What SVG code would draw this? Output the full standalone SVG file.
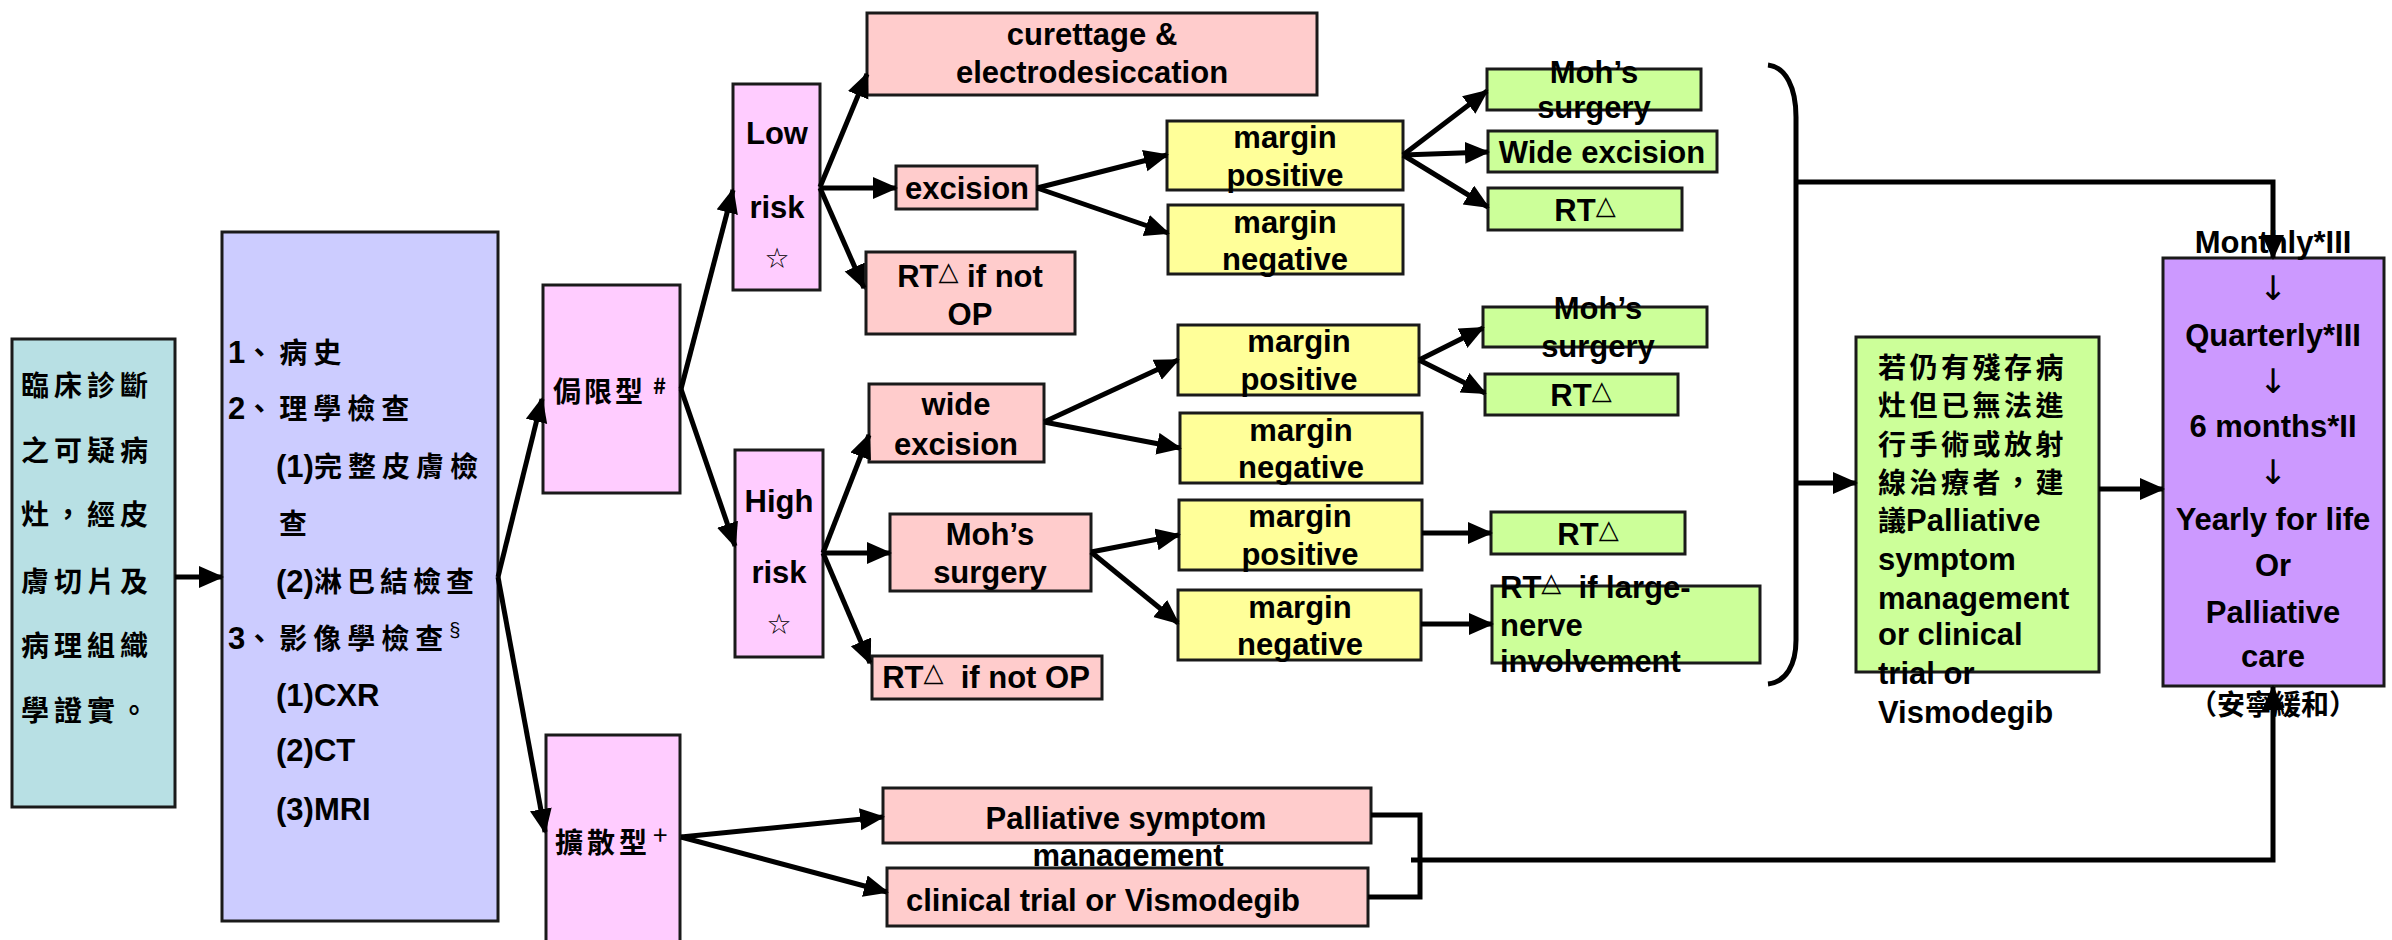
<svg xmlns="http://www.w3.org/2000/svg" width="2392" height="940" viewBox="0 0 2392 940">
<defs>
<style>
.box{stroke:#1a1a1a;stroke-width:3}
.teal{fill:#B8E0E4}.lav{fill:#CCCCFF}.pink{fill:#FFCCFF}.sal{fill:#FFCCCC}.yel{fill:#FFFF99}.grn{fill:#CCFF99}.pur{fill:#CC99FF}
.t{font-family:"Liberation Sans","Noto Sans CJK TC",sans-serif;font-weight:bold;font-size:31px;fill:#000}
.c{text-anchor:middle}
.cj{font-family:"Noto Sans CJK TC","Liberation Sans",sans-serif;font-weight:bold;font-size:28px}
.tri{font-family:"DejaVu Sans",sans-serif;font-weight:normal;font-size:26px}
.star{font-family:"DejaVu Sans",sans-serif;font-weight:normal;font-size:28px}
.dn{font-family:"DejaVu Sans",sans-serif;font-weight:normal;font-size:34px;text-anchor:middle}
.cn line,.cn path{stroke:#000;stroke-width:5;fill:none}
</style>
<marker id="ah" markerUnits="userSpaceOnUse" markerWidth="26" markerHeight="24" refX="23" refY="11" orient="auto"><path d="M0,0 L25,11 L0,22 z" fill="#000"/></marker>
</defs>
<rect width="2392" height="940" fill="#fff"/>

<g id="n-clinical">
<rect class="box teal" x="12" y="339" width="163" height="468"/>
<text class="t cj" letter-spacing="5"><tspan x="21" y="396">臨床診斷</tspan><tspan x="21" y="461">之可疑病</tspan><tspan x="21" y="525">灶，經皮</tspan><tspan x="21" y="592">膚切片及</tspan><tspan x="21" y="656">病理組織</tspan><tspan x="21" y="721">學證實。</tspan></text>
</g>

<g id="n-exam">
<rect class="box lav" x="222" y="232" width="276" height="689"/>
<text class="t" font-size="30" x="228" y="363">1<tspan class="cj" letter-spacing="6">、病史</tspan></text>
<text class="t" font-size="30" x="228" y="419">2<tspan class="cj" letter-spacing="6">、理學檢查</tspan></text>
<text class="t" font-size="30" x="276" y="477">(1)<tspan class="cj" letter-spacing="6">完整皮膚檢</tspan></text>
<text class="t cj" x="279" y="534">查</text>
<text class="t" font-size="30" x="276" y="592">(2)<tspan class="cj" letter-spacing="5">淋巴結檢查</tspan></text>
<text class="t" font-size="30" x="228" y="649">3<tspan class="cj" letter-spacing="6">、影像學檢查</tspan><tspan font-size="20" font-weight="normal" dy="-12">§</tspan></text>
<text class="t" font-size="30" x="276" y="706">(1)CXR</text>
<text class="t" font-size="30" x="276" y="761">(2)CT</text>
<text class="t" font-size="30" x="276" y="820">(3)MRI</text>
</g>

<g id="n-localized">
<rect class="box pink" x="543" y="285" width="137" height="208"/>
<text class="t cj" letter-spacing="3" x="553" y="402">侷限型<tspan x="653" y="394" font-size="22" letter-spacing="0">#</tspan></text>
</g>

<g id="n-diffuse">
<rect class="box pink" x="546" y="735" width="134" height="215"/>
<text class="t cj" letter-spacing="4" x="555" y="853">擴散型<tspan x="653" y="845" font-size="26" font-weight="normal" letter-spacing="0">+</tspan></text>
</g>

<g id="n-low">
<rect class="box pink" x="733" y="84" width="87" height="206"/>
<text class="t c" x="777" y="144">Low</text>
<text class="t c" x="777" y="218">risk</text>
<text class="star c" x="777" y="268">☆</text>
</g>

<g id="n-high">
<rect class="box pink" x="735" y="450" width="88" height="207"/>
<text class="t c" x="779" y="512">High</text>
<text class="t c" x="779" y="583">risk</text>
<text class="star c" x="779" y="634">☆</text>
</g>

<g id="n-curettage">
<rect class="box sal" x="867" y="13" width="450" height="82"/>
<text class="t c" x="1092" y="45">curettage &amp;</text>
<text class="t c" x="1092" y="83">electrodesiccation</text>
</g>

<g id="n-excision">
<rect class="box sal" x="896" y="166" width="141" height="43"/>
<text class="t c" x="967" y="199">excision</text>
</g>

<g id="n-rt-low">
<rect class="box sal" x="866" y="252" width="209" height="82"/>
<text class="t c" x="970" y="287">RT<tspan class="tri" dy="-7">△</tspan><tspan dy="7"> if not</tspan></text>
<text class="t c" x="970" y="325">OP</text>
</g>

<g id="n-wide">
<rect class="box sal" x="869" y="384" width="175" height="78"/>
<text class="t c" x="956" y="415">wide</text>
<text class="t c" x="956" y="455">excision</text>
</g>

<g id="n-mohs">
<rect class="box sal" x="890" y="514" width="201" height="77"/>
<text class="t c" x="990" y="545">Moh’s</text>
<text class="t c" x="990" y="583">surgery</text>
</g>

<g id="n-rt-high">
<rect class="box sal" x="872" y="656" width="230" height="43"/>
<text class="t c" x="986" y="688">RT<tspan class="tri" dy="-7">△</tspan><tspan dy="7" xml:space="preserve">  if not OP</tspan></text>
</g>

<g id="n-palliative">
<rect class="box sal" x="883" y="788" width="488" height="55"/>
<text class="t c" x="1126" y="829">Palliative symptom</text>
<text class="t c" x="1128" y="866">management</text>
</g>

<g id="n-trial">
<rect class="box sal" x="887" y="868" width="481" height="58"/>
<text class="t" x="906" y="911">clinical trial or Vismodegib</text>
</g>

<g id="n-mpos1">
<rect class="box yel" x="1167" y="121" width="236" height="69"/>
<text class="t c" x="1285" y="148">margin</text>
<text class="t c" x="1285" y="186">positive</text>
</g>
<g id="n-mneg1">
<rect class="box yel" x="1168" y="205" width="235" height="69"/>
<text class="t c" x="1285" y="233">margin</text>
<text class="t c" x="1285" y="270">negative</text>
</g>
<g id="n-mpos2">
<rect class="box yel" x="1178" y="325" width="241" height="70"/>
<text class="t c" x="1299" y="352">margin</text>
<text class="t c" x="1299" y="390">positive</text>
</g>
<g id="n-mneg2">
<rect class="box yel" x="1180" y="413" width="242" height="70"/>
<text class="t c" x="1301" y="441">margin</text>
<text class="t c" x="1301" y="478">negative</text>
</g>
<g id="n-mpos3">
<rect class="box yel" x="1179" y="500" width="243" height="70"/>
<text class="t c" x="1300" y="527">margin</text>
<text class="t c" x="1300" y="565">positive</text>
</g>
<g id="n-mneg3">
<rect class="box yel" x="1178" y="590" width="243" height="70"/>
<text class="t c" x="1300" y="618">margin</text>
<text class="t c" x="1300" y="655">negative</text>
</g>

<g id="n-g-mohs1">
<rect class="box grn" x="1487" y="69" width="214" height="41"/>
<text class="t c" x="1594" y="83">Moh’s</text>
<text class="t c" x="1594" y="118">surgery</text>
</g>
<g id="n-g-wide">
<rect class="box grn" x="1488" y="131" width="229" height="41"/>
<text class="t c" x="1602" y="163">Wide excision</text>
</g>
<g id="n-g-rt1">
<rect class="box grn" x="1488" y="188" width="194" height="42"/>
<text class="t c" x="1585" y="221">RT<tspan class="tri" dy="-7">△</tspan></text>
</g>
<g id="n-g-mohs2">
<rect class="box grn" x="1483" y="307" width="224" height="40"/>
<text class="t c" x="1598" y="319">Moh’s</text>
<text class="t c" x="1598" y="357">surgery</text>
</g>
<g id="n-g-rt2">
<rect class="box grn" x="1485" y="374" width="193" height="41"/>
<text class="t c" x="1581" y="406">RT<tspan class="tri" dy="-7">△</tspan></text>
</g>
<g id="n-g-rt3">
<rect class="box grn" x="1491" y="512" width="194" height="42"/>
<text class="t c" x="1588" y="545">RT<tspan class="tri" dy="-7">△</tspan></text>
</g>
<g id="n-g-rt4">
<rect class="box grn" x="1492" y="586" width="268" height="77"/>
<text class="t" x="1500" y="598">RT<tspan class="tri" dy="-7">△</tspan><tspan dy="7" xml:space="preserve">  if large-</tspan></text>
<text class="t" x="1500" y="636">nerve</text>
<text class="t" x="1500" y="672">involvement</text>
</g>

<g id="n-residual">
<rect class="box grn" x="1856" y="337" width="243" height="335"/>
<text class="t cj" letter-spacing="3.5"><tspan x="1878" y="378">若仍有殘存病</tspan><tspan x="1878" y="416">灶但已無法進</tspan><tspan x="1878" y="455">行手術或放射</tspan><tspan x="1878" y="493">線治療者，建</tspan></text>
<text class="t" x="1878" y="531"><tspan class="cj">議</tspan>Palliative</text>
<text class="t" x="1878" y="570">symptom</text>
<text class="t" x="1878" y="609">management</text>
<text class="t" x="1878" y="645">or clinical</text>
<text class="t" x="1878" y="684">trial or</text>
<text class="t" x="1878" y="723">Vismodegib</text>
</g>

<g id="n-followup">
<rect class="box pur" x="2163" y="258" width="221" height="428"/>
<text class="t c" x="2273" y="253">Monthly*III</text>
<text class="dn" x="2273" y="300">↓</text>
<text class="t c" x="2273" y="346">Quarterly*III</text>
<text class="dn" x="2273" y="393">↓</text>
<text class="t c" x="2273" y="437">6 months*II</text>
<text class="dn" x="2273" y="484">↓</text>
<text class="t c" x="2273" y="530">Yearly for life</text>
<text class="t c" x="2273" y="576">Or</text>
<text class="t c" x="2273" y="623">Palliative</text>
<text class="t c" x="2273" y="667">care</text>
<text class="t cj c" font-size="25" x="2273" y="715">（安寧緩和）</text>
</g>

<g id="connectors" class="cn">
<line x1="175" y1="577" x2="222" y2="577" marker-end="url(#ah)"/>
<line x1="498" y1="577" x2="542" y2="399" marker-end="url(#ah)"/>
<line x1="498" y1="577" x2="545" y2="832" marker-end="url(#ah)"/>
<line x1="681" y1="389" x2="733" y2="190" marker-end="url(#ah)"/>
<line x1="681" y1="389" x2="735" y2="546" marker-end="url(#ah)"/>
<line x1="820" y1="187" x2="867" y2="74" marker-end="url(#ah)"/>
<line x1="820" y1="188" x2="896" y2="188" marker-end="url(#ah)"/>
<line x1="820" y1="188" x2="864" y2="288" marker-end="url(#ah)"/>
<line x1="1037" y1="188" x2="1167" y2="155" marker-end="url(#ah)"/>
<line x1="1037" y1="188" x2="1168" y2="233" marker-end="url(#ah)"/>
<line x1="1403" y1="155" x2="1487" y2="91" marker-end="url(#ah)"/>
<line x1="1403" y1="155" x2="1488" y2="152" marker-end="url(#ah)"/>
<line x1="1403" y1="155" x2="1488" y2="207" marker-end="url(#ah)"/>
<line x1="823" y1="553" x2="869" y2="435" marker-end="url(#ah)"/>
<line x1="823" y1="553" x2="890" y2="553" marker-end="url(#ah)"/>
<line x1="823" y1="553" x2="870" y2="663" marker-end="url(#ah)"/>
<line x1="1044" y1="422" x2="1178" y2="360" marker-end="url(#ah)"/>
<line x1="1044" y1="422" x2="1180" y2="448" marker-end="url(#ah)"/>
<line x1="1419" y1="360" x2="1483" y2="328" marker-end="url(#ah)"/>
<line x1="1419" y1="360" x2="1485" y2="393" marker-end="url(#ah)"/>
<line x1="1091" y1="552" x2="1179" y2="535" marker-end="url(#ah)"/>
<line x1="1091" y1="552" x2="1178" y2="623" marker-end="url(#ah)"/>
<line x1="1422" y1="533" x2="1491" y2="533" marker-end="url(#ah)"/>
<line x1="1421" y1="624" x2="1492" y2="624" marker-end="url(#ah)"/>
<line x1="681" y1="837" x2="883" y2="817" marker-end="url(#ah)"/>
<line x1="681" y1="837" x2="887" y2="892" marker-end="url(#ah)"/>
<path d="M1768,65 C1786,67 1796,88 1796,117 L1796,640 C1796,665 1786,682 1768,684"/>
<path d="M1796,182 H2273 V258" marker-end="url(#ah)"/>
<line x1="1796" y1="483" x2="1856" y2="483" marker-end="url(#ah)"/>
<line x1="2099" y1="489" x2="2163" y2="489" marker-end="url(#ah)"/>
<path d="M1371,815 H1420 V897 H1368"/>
<path d="M1411,860 H2273 V687" marker-end="url(#ah)"/>
</g>
</svg>
